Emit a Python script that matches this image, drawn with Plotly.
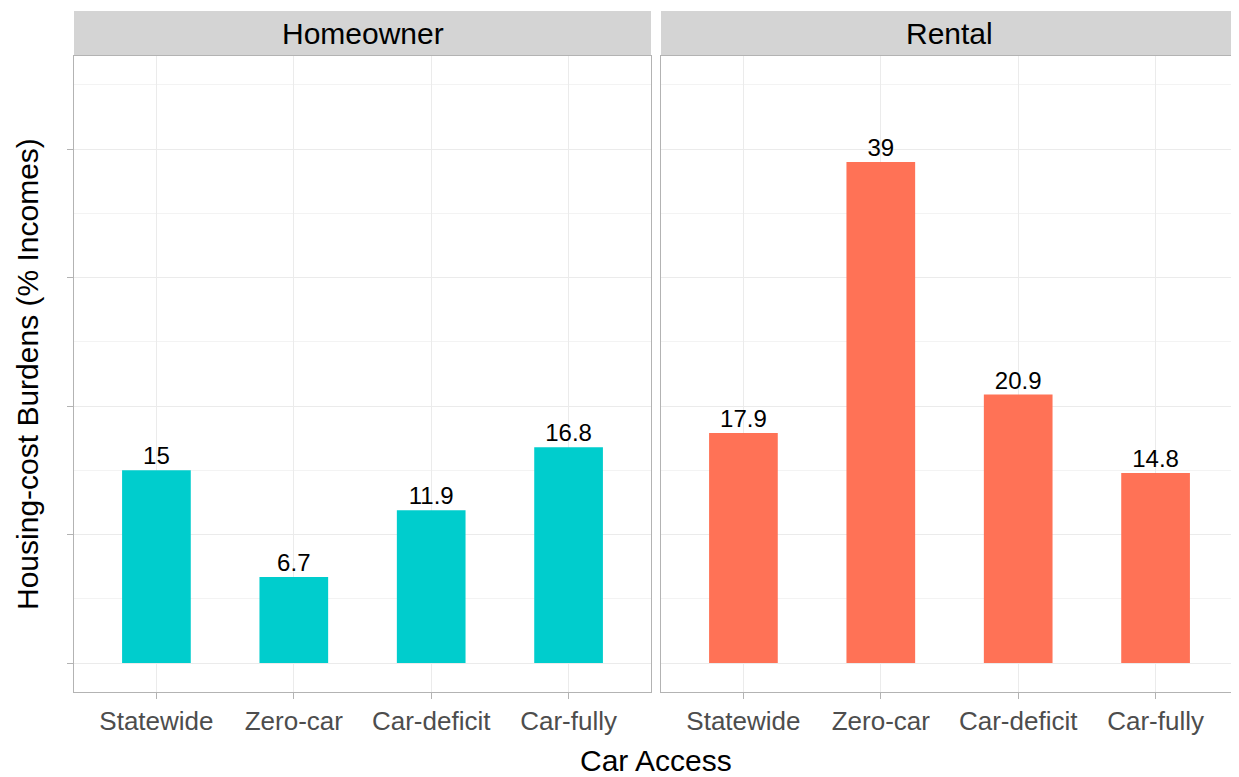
import plotly.graph_objects as go
from plotly.subplots import make_subplots

# data
categories = ["Statewide", "Zero-car", "Car-deficit", "Car-fully"]
tenures = ["Homeowner", "Rental"]
homeowner_vals = [15, 6.7, 11.9, 16.8]
rental_vals = [17.9, 39, 20.9, 14.8]
colors = ["#00CDCD", "#FF7256"]

FONT = "Liberation Sans, Arial, sans-serif"
OFF = 8  # page body margin in the browser
W, H = 1239 - OFF, 777 - OFF
ML, MR, MT, MB = 74 - OFF, 1, 56 - OFF, 85
pw = W - ML - MR
ph = H - MT - MB
bottom = H - MB  # panel bottom in figure px


def px_x(x):
    return (x - OFF - ML) / pw


def px_y(y):
    return (bottom - (y - OFF)) / ph


fig = make_subplots(rows=1, cols=2, shared_yaxes=False,
                    horizontal_spacing=10 / pw)

for i, vals in enumerate([homeowner_vals, rental_vals]):
    fig.add_trace(
        go.Bar(
            x=categories,
            y=vals,
            width=0.5,
            marker=dict(color=colors[i], line=dict(width=0)),
            showlegend=False,
        ),
        row=1, col=i + 1,
    )
    # value labels sitting just above each bar
    fig.add_trace(
        go.Scatter(
            x=categories,
            y=vals,
            mode="text",
            text=[f"{v:g}" for v in vals],
            textposition="top center",
            textfont=dict(family=FONT, size=24, color="black"),
            cliponaxis=False,
            showlegend=False,
            hoverinfo="skip",
        ),
        row=1, col=i + 1,
    )

fig.update_xaxes(
    type="category",
    range=[-0.6, 3.6],
    showgrid=True, gridcolor="#EBEBEB", gridwidth=1,
    showline=True, linecolor="#B3B3B3", linewidth=1, mirror=True,
    ticks="outside", ticklen=6, tickcolor="#B3B3B3",
    tickfont=dict(family=FONT, size=26, color="#4D4D4D"),
    zeroline=False,
)
fig.update_yaxes(
    range=[-2.25, 47.25],
    dtick=10, tick0=0,
    showticklabels=False,
    showgrid=True, gridcolor="#EBEBEB", gridwidth=1,
    minor=dict(dtick=5, tick0=0, showgrid=True, gridcolor="#F3F3F3", gridwidth=1),
    showline=True, linecolor="#B3B3B3", linewidth=1, mirror=True,
    zeroline=False,
)
fig.update_yaxes(ticks="outside", ticklen=6, tickcolor="#B3B3B3", row=1, col=1)
fig.update_yaxes(ticks="", row=1, col=2)

# facet strips
strip_top = px_y(11)
for i, name in enumerate(tenures):
    xa = fig.layout["xaxis" if i == 0 else "xaxis2"].domain
    fig.add_shape(type="rect", xref="paper", yref="paper",
                  x0=xa[0], x1=xa[1], y0=1, y1=strip_top,
                  fillcolor="#D4D4D4", line=dict(width=0), layer="below")
    fig.add_annotation(x=(xa[0] + xa[1]) / 2, y=(1 + strip_top) / 2,
                       xref="paper", yref="paper", text=name, showarrow=False,
                       xanchor="center", yanchor="middle",
                       font=dict(family=FONT, size=30, color="black"))

fig.add_annotation(x=px_x(656), y=px_y(760), xref="paper", yref="paper",
                   text="Car Access", showarrow=False, xanchor="center", yanchor="middle",
                   font=dict(family=FONT, size=30, color="black"))
fig.add_annotation(x=px_x(27), y=0.5, xref="paper", yref="paper",
                   text="Housing-cost Burdens (% Incomes)", textangle=-90, showarrow=False,
                   xanchor="center", yanchor="middle",
                   font=dict(family=FONT, size=30, color="black"))

fig.update_layout(
    width=W, height=H,
    margin=dict(l=ML, r=MR, t=MT, b=MB),
    plot_bgcolor="white", paper_bgcolor="white",
    bargap=0.5,
)

fig.write_html("out.html")
